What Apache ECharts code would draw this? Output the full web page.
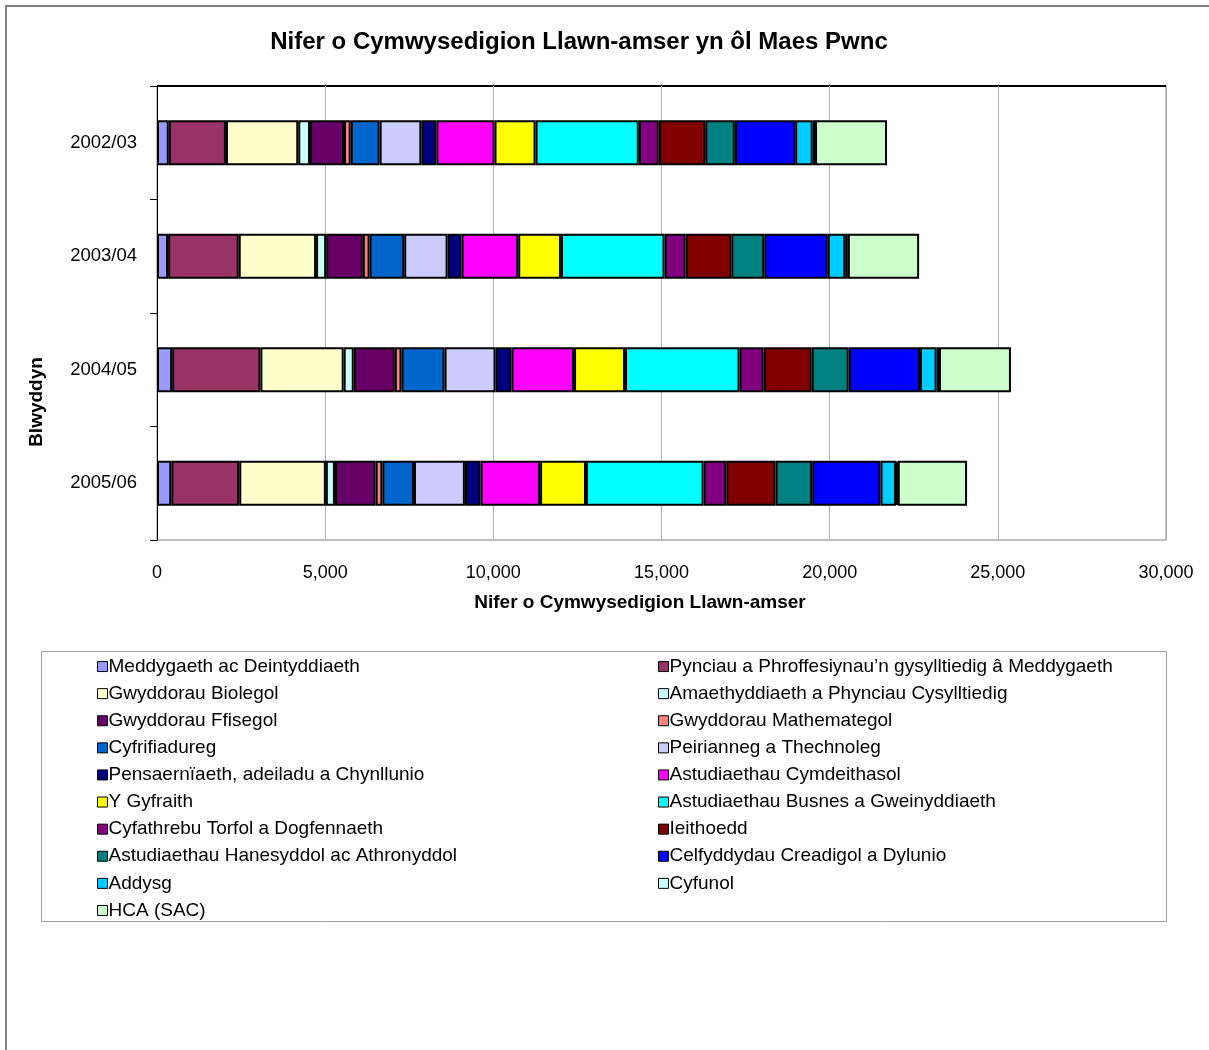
<!DOCTYPE html>
<html>
<head>
<meta charset="utf-8">
<script src="https://cdn.jsdelivr.net/npm/echarts@6/dist/echarts.min.js"></script>
<style>html,body{margin:0;padding:0;background:#fff}#c{width:1209px;height:1050px}</style>
</head>
<body>
<div id="c"></div>
<script>
const years = ['2002/03', '2003/04', '2004/05', '2005/06'];
const seriesNames = [
  'Meddygaeth ac Deintyddiaeth',
  'Pynciau a Phroffesiynau\u2019n gysylltiedig \u00e2 Meddygaeth',
  'Gwyddorau Biolegol',
  'Amaethyddiaeth a Phynciau Cysylltiedig',
  'Gwyddorau Ffisegol',
  'Gwyddorau Mathemategol',
  'Cyfrifiadureg',
  'Peirianneg a Thechnoleg',
  'Pensaern\u00efaeth, adeiladu a Chynllunio',
  'Astudiaethau Cymdeithasol',
  'Y Gyfraith',
  'Astudiaethau Busnes a Gweinyddiaeth',
  'Cyfathrebu Torfol a Dogfennaeth',
  'Ieithoedd',
  'Astudiaethau Hanesyddol ac Athronyddol',
  'Celfyddydau Creadigol a Dylunio',
  'Addysg',
  'Cyfunol',
  'HCA (SAC)'
];
// values per subject, in year order 2002/03, 2003/04, 2004/05, 2005/06
const meddygaeth   = [350, 330, 450, 425];
const pynciau      = [1700, 2100, 2625, 2020];
const biolegol     = [2150, 2300, 2475, 2575];
const amaeth       = [350, 300, 300, 270];
const ffisegol     = [1010, 1090, 1220, 1210];
const mathemateg   = [200, 200, 200, 200];
const cyfrifiadureg= [860, 1030, 1280, 940];
const peirianneg   = [1240, 1290, 1515, 1515];
const pensaer      = [445, 415, 475, 465];
const cymdeithasol = [1730, 1685, 1860, 1770];
const gyfraith     = [1220, 1270, 1515, 1365];
const busnes       = [3070, 3080, 3405, 3495];
const cyfathrebu   = [595, 625, 720, 675];
const ieithoedd    = [1380, 1360, 1425, 1465];
const hanes        = [880, 980, 1100, 1090];
const celfyddydau  = [1795, 1890, 2120, 2030];
const addysg       = [520, 515, 495, 465];
const cyfunol      = [70, 80, 70, 50];
const hca          = [2140, 2120, 2140, 2060];
const xTicks = [0, 5000, 10000, 15000, 20000, 25000, 30000];

const allValues = [meddygaeth, pynciau, biolegol, amaeth, ffisegol, mathemateg, cyfrifiadureg,
  peirianneg, pensaer, cymdeithasol, gyfraith, busnes, cyfathrebu, ieithoedd, hanes,
  celfyddydau, addysg, cyfunol, hca];
const colors = ['#9999FF','#993366','#FFFFCC','#CCFFFF','#660066','#FF8080','#0066CC','#CCCCFF',
  '#000080','#FF00FF','#FFFF00','#00FFFF','#800080','#800000','#008080','#0000FF','#00CCFF',
  '#CCFFFF','#CCFFCC'];

const FONT = '"Liberation Sans", Arial, sans-serif';
const chart = echarts.init(document.getElementById('c'));

const series = seriesNames.map((n, i) => ({
  name: n,
  type: 'bar',
  stack: 'total',
  barWidth: 45,
  data: allValues[i],
  itemStyle: { color: colors[i], borderColor: '#000', borderWidth: 2 },
  emphasis: { disabled: true }
}));

const legendCommon = {
  orient: 'vertical',
  top: 657,
  padding: 0,
  itemWidth: 10,
  itemHeight: 10,
  itemGap: 8,
  icon: 'rect',
  itemStyle: { borderColor: '#000', borderWidth: 1 },
  textStyle: { fontFamily: FONT, fontSize: 19, color: '#000', lineHeight: 19.1, padding: [0, 0, 0, -4] },
  selectedMode: false
};

chart.setOption({
  animation: false,
  backgroundColor: '#fff',
  color: colors,
  title: {
    text: 'Nifer o Cymwysedigion Llawn-amser yn \u00f4l Maes Pwnc',
    left: 574, top: 25, textAlign: 'center',
    textStyle: { fontFamily: FONT, fontSize: 24, fontWeight: 'bold', color: '#000' }
  },
  legend: [
    Object.assign({}, legendCommon, { left: 97, data: seriesNames.filter((_, i) => i % 2 === 0) }),
    Object.assign({}, legendCommon, { left: 658, data: seriesNames.filter((_, i) => i % 2 === 1) })
  ],
  grid: { left: 157, right: 43, top: 86, bottom: 510, show: true, borderColor: '#808080', borderWidth: 1 },
  xAxis: {
    type: 'value', min: 0, max: 30000, interval: 5000,
    axisLine: { show: false },
    axisTick: { show: false },
    axisLabel: { fontFamily: FONT, fontSize: 18, color: '#000', margin: 24,
      formatter: v => xTicks.includes(v) ? v.toLocaleString('en-US') : '' },
    splitLine: { show: true, lineStyle: { color: '#b0b0b0', width: 1 } }
  },
  yAxis: {
    type: 'category', data: years, inverse: true,
    axisLine: { show: true, lineStyle: { color: '#000', width: 1 } },
    axisTick: { show: true, length: 7, lineStyle: { color: '#000' } },
    axisLabel: { fontFamily: FONT, fontSize: 18.5, color: '#000', margin: 20 },
    splitLine: { show: false }
  },
  graphic: [
    { type: 'rect', shape: { x: 6, y: 6, width: 1300, height: 1100 }, style: { fill: 'none', stroke: '#808080', lineWidth: 2 }, silent: true },
    { type: 'line', shape: { x1: 157, y1: 86, x2: 1166, y2: 86 }, style: { stroke: '#000', lineWidth: 2 }, silent: true },
    { type: 'rect', shape: { x: 41.5, y: 651.5, width: 1125, height: 270 }, style: { fill: 'none', stroke: '#a0a0a0', lineWidth: 1 }, silent: true },
    { type: 'text', x: 37, y: 402, rotation: Math.PI / 2, silent: true,
      style: { text: 'Blwyddyn', fontFamily: FONT, fontSize: 19, fontWeight: 'bold', fill: '#000', align: 'center', verticalAlign: 'middle' } },
    { type: 'text', x: 640, y: 603, silent: true,
      style: { text: 'Nifer o Cymwysedigion Llawn-amser', fontFamily: FONT, fontSize: 19, fontWeight: 'bold', fill: '#000', align: 'center', verticalAlign: 'middle' } }
  ],
  series: series
});
</script>
</body>
</html>
